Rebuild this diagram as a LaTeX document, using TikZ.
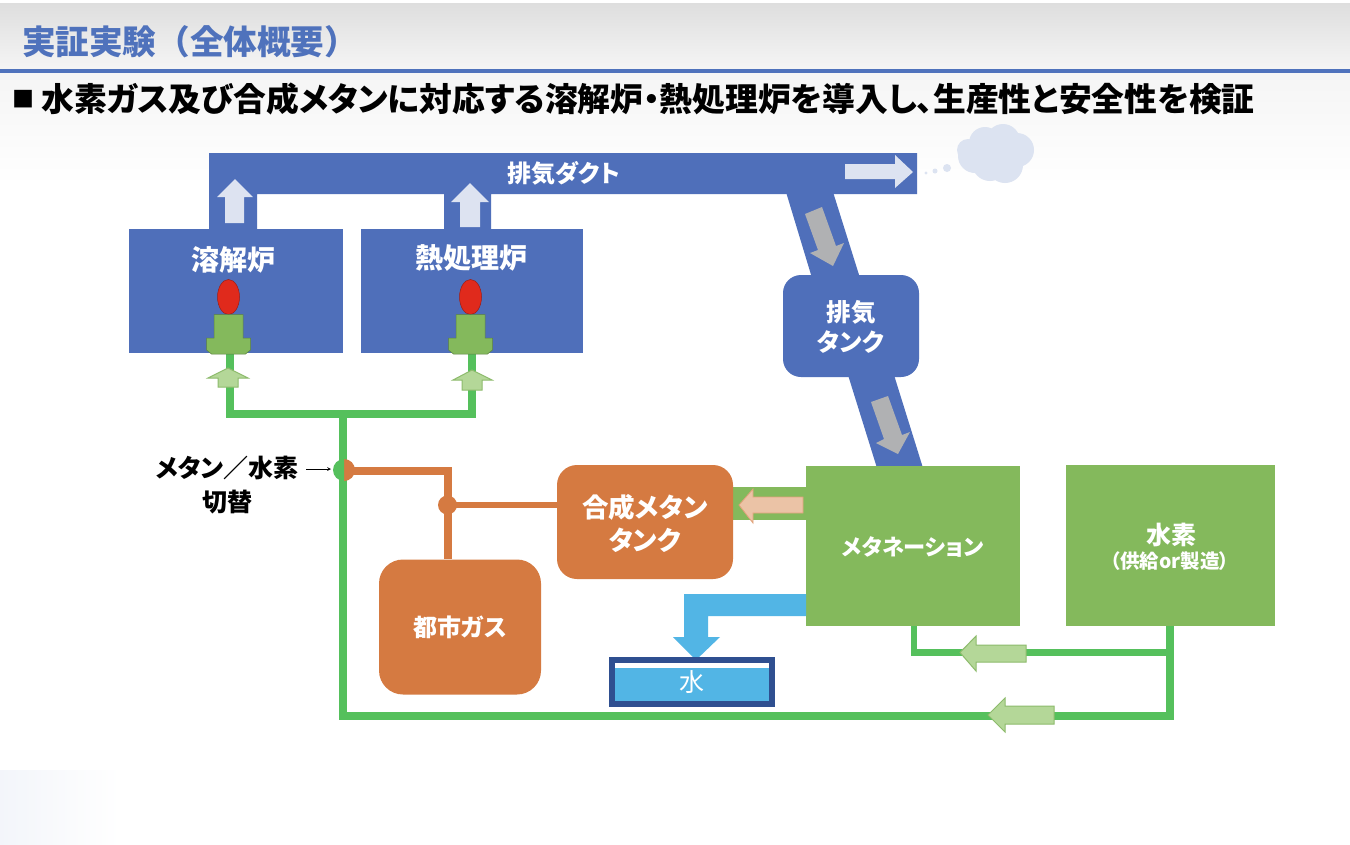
\documentclass[tikz,border=0pt]{standalone}
\usepackage{fontspec}
\setmainfont{Noto Sans CJK JP}[RawFeature=+palt]
\newfontfamily\fullw{Noto Sans CJK JP}
\usetikzlibrary{calc}
\definecolor{hdrblue}{HTML}{4F72BC}
\definecolor{ductblue}{HTML}{4F6FBA}
\definecolor{palearrow}{HTML}{DDE3F1}
\definecolor{cloudc}{HTML}{DCE3F1}
\definecolor{grayarrow}{HTML}{B0B1B3}
\definecolor{boxgreen}{HTML}{84B95C}
\definecolor{pipegreen}{HTML}{55C05C}
\definecolor{lightgreen}{HTML}{B4D798}
\definecolor{edgegreen}{HTML}{8DBB6C}
\definecolor{orangec}{HTML}{D57A41}
\definecolor{pinkc}{HTML}{EBC3A6}
\definecolor{waterc}{HTML}{52B5E5}
\definecolor{navyc}{HTML}{2F4F90}
\definecolor{flame}{HTML}{E02A1C}
\tikzset{
  blockb/.style={fill=ductblue,draw=none,inner sep=0pt,rectangle},
  blockg/.style={fill=boxgreen,draw=none,inner sep=0pt,rectangle},
  blocko/.style={fill=orangec,draw=none,inner sep=0pt,rectangle,rounded corners=18pt},
  lbl/.style={text=white,font=\bfseries,inner sep=0pt,align=center},
  greenpipe/.style={draw=pipegreen,line width=8pt,line join=miter,line cap=butt},
  greenthin/.style={draw=pipegreen,line width=6.5pt,line join=miter,line cap=butt},
  orangepipe/.style={draw=orangec,line width=8pt,line join=miter,line cap=butt},
  paleflow/.style={fill=palearrow,draw=none},
  grayflow/.style={fill=grayarrow,draw=none},
  greenflow/.style={fill=lightgreen,draw=edgegreen,line width=1pt},
  pinkflow/.style={fill=pinkc,draw=orangec!70,line width=0.8pt},
}
\begin{document}
\begin{tikzpicture}[x=1pt,y=-1pt]
\useasboundingbox (0,0) rectangle (1350,844);
% background
\fill[white] (0,0) rectangle (1350,844);
\shade[top color=black!13,bottom color=black!4] (0,3) rectangle (1350,69);
\shade[top color=black!4,bottom color=white] (0,72) rectangle (1350,185);
\shade[left color=cloudc!35,right color=white] (0,770) rectangle (120,844);
\fill[hdrblue] (0,69) rectangle (1350,73);
\node[anchor=west,inner sep=0pt,text=hdrblue,font=\fullw\bfseries\fontsize{33.6}{36}\selectfont] (title) at (22,42) {実証実験（全体概要）};
\node[anchor=west,inner sep=0pt,text=black,font=\bfseries\fontsize{22}{26}\selectfont] (bullet) at (12,99) {■};
\node[anchor=west,inner sep=0pt,text=black,font=\bfseries\fontsize{32.8}{36}\selectfont] (subtitle) at (41,99) {水素ガス及び合成メタンに対応する溶解炉・熱処理炉を導入し、生産性と安全性を検証};

% duct
\fill[ductblue] (209,153) -- (917,153) -- (917,194) -- (491,194) -- (491,232) -- (444,232) -- (444,194) -- (257,194) -- (257,232) -- (209,232) -- cycle;
\fill[ductblue] (786,192) -- (833,192) -- (860,278) -- (812,278) -- cycle;
\fill[ductblue] (848,375) -- (894,375) -- (923,468) -- (877,468) -- cycle;

% cloud
\fill[cloudc] (975,156) circle (17) (985,143) circle (16) (1003,141) circle (17) (1017,150) circle (17) (1005,165) circle (18) (990,163) circle (18) (968,150) circle (11) (995,153) circle (20);
\fill[cloudc] (947,168) circle (4) (935,171) circle (2.5) (926,173) circle (1.6);

% furnaces
\node[blockb,minimum width=214.5pt,minimum height=124pt] (melt) at (235.75,291) {};
\node[blockb,minimum width=222pt,minimum height=124pt] (heat) at (472,291) {};
\node[lbl,font=\bfseries\fontsize{28}{32}\selectfont] (meltlabel) at (233,260) {溶解炉};
\node[lbl,font=\bfseries\fontsize{28}{32}\selectfont] (heatlabel) at (471,258) {熱処理炉};

% green pipes
\coordinate (burnA) at (230,353);
\coordinate (burnB) at (472,353);
\coordinate (teeTop) at (343,414);
\coordinate (valve) at (343,471);
\coordinate (hydroDown) at (1170,626);
\coordinate (methDown) at (914,626);
\draw[greenpipe] (burnA) |- (burnB |- teeTop) -- (burnB);
\draw[greenpipe] (teeTop) -- (valve) |- (1170,715.5) -- (hydroDown);
\draw[greenthin] (methDown) |- (1170,652.5);

% burners
\foreach \cx/\nm in {228.5/A,470.5/B}{
  \fill[flame,draw=flame!70!black,line width=0.5pt] (\cx,297) ellipse [x radius=11,y radius=17.5];
  \fill[boxgreen,draw=boxgreen!70!black,line width=0.5pt] (\cx-14.5,314.5) -- (\cx+14.5,314.5) -- (\cx+14.5,338) -- (\cx+22,338) -- (\cx+22,350) -- (\cx+17,354) -- (\cx-17,354) -- (\cx-22,350) -- (\cx-22,338) -- (\cx-14.5,338) -- cycle;
}

% upward green arrows
\path[greenflow] (228,368) -- (248,378) -- (238,378) -- (238,387) -- (218,387) -- (218,378) -- (208,378) -- cycle;
\path[greenflow] (472,370) -- (492,380) -- (482,380) -- (482,390) -- (462,390) -- (462,380) -- (453,380) -- cycle;

% pale flow arrows
\path[paleflow] (235,179) -- (253,197) -- (244,197) -- (244,223) -- (225,223) -- (225,197) -- (217,197) -- cycle;
\path[paleflow] (470,183) -- (489,202) -- (480,202) -- (480,227) -- (460,227) -- (460,202) -- (451,202) -- cycle;
\path[paleflow] (845,164) -- (895,164) -- (895,155) -- (913,172) -- (895,188) -- (895,179) -- (845,179) -- cycle;
\node[lbl,font=\bfseries\fontsize{24}{26}\selectfont] (ductlabel) at (563.5,173) {排気ダクト};

% tank
\node[blockb,rounded corners=18pt,minimum width=136pt,minimum height=102pt] (extank) at (851,326) {};
\node[lbl,font=\bfseries\fontsize{24.5}{29}\selectfont] (extanklabel) at (851,326.5) {排気\\[1pt]タンク};
\path[grayflow] (805,214) -- (822,207) -- (836,246) -- (844,243) -- (833,266) -- (810,253) -- (818,250) -- cycle;
\path[grayflow] (871,402) -- (888,396) -- (902,435) -- (910,432) -- (898,454) -- (876,443) -- (884,439) -- cycle;

% green boxes
\node[blockg,minimum width=214pt,minimum height=160pt] (meth) at (913,546) {};
\node[lbl,font=\bfseries\fontsize{22.2}{25}\selectfont] (methlabel) at (913,547) {メタネーション};
\node[blockg,minimum width=209pt,minimum height=161pt] (hydro) at (1170.5,545.5) {};
\node[lbl,font=\bfseries\fontsize{25}{27}\selectfont] (hydrolabel) at (1171,535) {水素};
\node[lbl,font=\bfseries\fontsize{19.5}{20}\selectfont] (hydrosub) at (1170,561) {（供給or製造）};

% synthetic methane feed
\fill[boxgreen] (730,487) rectangle (808,520);
\node[blocko,rounded corners=20pt,minimum width=176pt,minimum height=114pt] (syn) at (645,522) {};
\node[lbl,font=\bfseries\fontsize{26.5}{33}\selectfont] (synlabel) at (645,523) {合成メタン\\タンク};
\path[pinkflow] (739,505) -- (753,489) -- (753,497) -- (803,497) -- (803,513) -- (753,513) -- (753,523) -- cycle;

% city gas + orange pipes
\node[blocko,rounded corners=24pt,minimum width=162pt,minimum height=135pt] (city) at (460,627) {};
\node[lbl,font=\bfseries\fontsize{24}{28}\selectfont] (citylabel) at (460,627) {都市ガス};
\coordinate (cityTop) at (447.5,559);
\coordinate (junction) at (447.5,505);
\draw[orangepipe] (valve) -| (cityTop);
\draw[orangepipe,line width=6pt] (junction) -- (syn.west |- junction);
\fill[orangec] (junction) circle (9.5);
\fill[orangec] (344,481) arc (90:-90:11) -- cycle;
\fill[pipegreen] (344,481) arc (90:270:11) -- cycle;

% water
\fill[waterc] (806,594) -- (684,594) -- (684,637) -- (673,637) -- (696,660) -- (720,637) -- (708,637) -- (708,616) -- (806,616) -- cycle;
\node[draw=navyc,line width=6pt,fill=white,inner sep=0pt,minimum width=160pt,minimum height=44pt] (water) at (692,682) {};
\fill[waterc] (615,668) rectangle (769,701);
\node[text=white,inner sep=0pt,font=\fontsize{25}{28}\selectfont] (waterlabel) at (692,682) {水};

% switch label
\node[inner sep=0pt,align=center,font=\bfseries\fontsize{25}{34}\selectfont] (switch) at (227,485) {メタン／水素\\切替};
\coordinate (swfrom) at (306,469);
\draw[-stealth,line width=0.7pt] (swfrom) -- (331,469);

% left green arrows
\path[greenflow] (960,652.5) -- (976,636) -- (976,645) -- (1026,645) -- (1026,662) -- (976,662) -- (976,671) -- cycle;
\path[greenflow] (988,715) -- (1005,698) -- (1005,706) -- (1054,706) -- (1054,724) -- (1005,724) -- (1005,732) -- cycle;
\end{tikzpicture}
\end{document}
